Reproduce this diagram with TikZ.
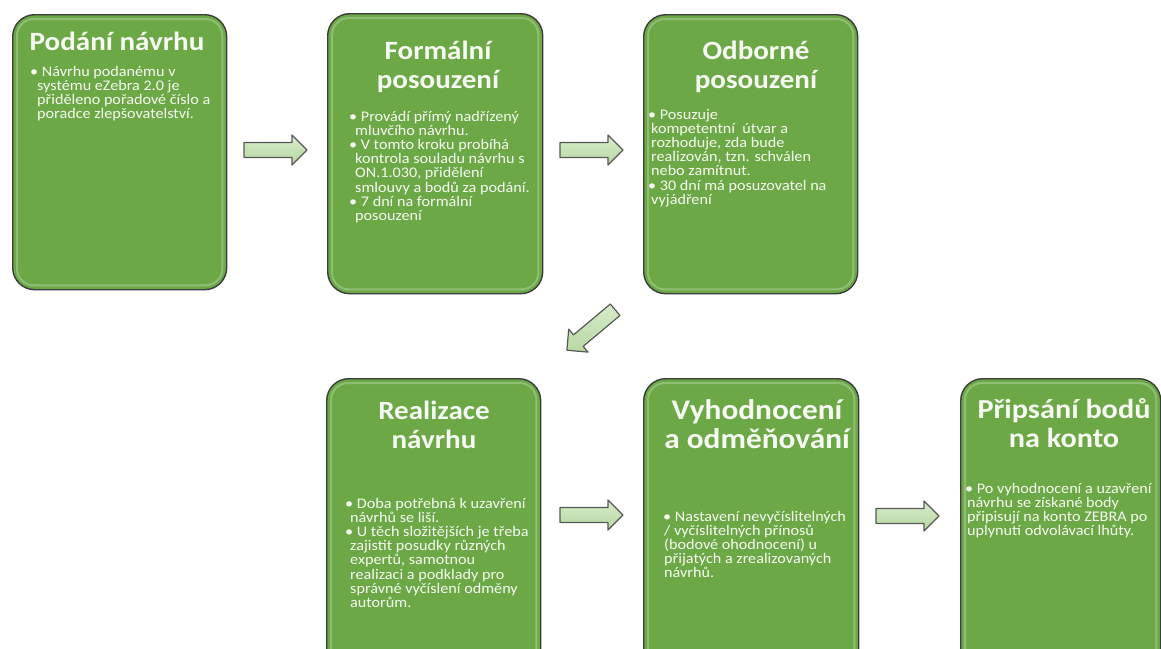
\documentclass[tikz,border=0pt]{standalone}
\usepackage{fontspec}
\setmainfont{Carlito}
\newfontfamily\ttlfont{Carlito}[FakeStretch=1.1]
\newfontfamily\bdyfont{Carlito}[FakeStretch=1.1]
\usetikzlibrary{calc}
\definecolor{boxgreen}{RGB}{108,168,70}
\definecolor{boxline}{RGB}{60,60,60}
\definecolor{txtcol}{RGB}{246,250,242}
\definecolor{arrtop}{RGB}{216,236,203}
\definecolor{arrbot}{RGB}{182,215,162}
\definecolor{arrline}{RGB}{88,88,88}
\newcommand\tsz[2]{\ttlfont\bfseries\fontsize{#1}{#2}\selectfont}
\newcommand\bsz[2]{\bdyfont\fontsize{#1}{#2}\selectfont}
\newcommand\blockarrow[2]{\draw[blockarr, shift={(#1)}, rotate=#2] (-31.5,-7.5) -- (16.5,-7.5) -- (16.5,-15) -- (31.5,0) -- (16.5,15) -- (16.5,7.5) -- (-31.5,7.5) -- cycle;}
\begin{document}
\begin{tikzpicture}[x=1pt,y=-1pt,
  stepbox/.style={draw=boxline, line width=1.4pt, fill=boxgreen, rounded corners=22pt, inner sep=0pt, anchor=north west},
  gloss/.style={draw=white, opacity=0.25, line width=2pt, rounded corners=17pt},
  ttl/.style={text=txtcol, align=center, anchor=base, inner sep=0pt, font=\tsz{26.4}{28.5}},
  bdy/.style={text=txtcol, align=left, anchor=base west, inner sep=0pt, font=\bsz{14.7}{14.2}},
  blockarr/.style={draw=arrline, line width=1.2pt, top color=arrtop, bottom color=arrbot, line join=round}]
\useasboundingbox[fill=white] (0,0) rectangle (1161,648);
% boxes
\node[stepbox, minimum width=214pt, minimum height=275pt] (b1) at (12,14) {};
\node[stepbox, minimum width=215pt, minimum height=280pt] (b2) at (327,13) {};
\node[stepbox, minimum width=214pt, minimum height=279pt] (b3) at (643,14) {};
\node[stepbox, minimum width=214pt, minimum height=300pt] (b4) at (326,378) {};
\node[stepbox, minimum width=215pt, minimum height=300pt] (b5) at (643,378) {};
\node[stepbox, minimum width=200pt, minimum height=300pt] (b6) at (960,378) {};
\foreach \b in {b1,b2,b3,b4,b5,b6}
  \draw[gloss] ([shift={(5,5)}]\b.north west) rectangle ([shift={(-5,-5)}]\b.south east);
% titles (anchor = baseline of the last line)
\node[ttl] (t1) at (117,50) {Podání návrhu};
\node[ttl] (t2) at (438,88) {Formální\\posouzení};
\node[ttl] (t3) at (756,88) {Odborné\\posouzení};
\node[ttl] (t4) at (434,448) {Realizace\\návrhu};
\node[ttl, font=\tsz{28.5}{28.5}] (t5) at (757,448) {Vyhodnocení\\a odměňování};
\node[ttl, font=\tsz{27.5}{28.5}] (t6) at (1064,447) {Připsání bodů\\na konto};
% bodies (anchor = baseline of the last line)
\node[bdy] (d1) at (30,118.6) {• Návrhu podanému v\\\hspace*{7pt}systému eZebra 2.0 je\\\hspace*{7pt}přiděleno pořadové číslo a\\\hspace*{7pt}poradce zlepšovatelství.};
\node[bdy] (d2) at (349,220.4) {• Provádí přímý nadřízený\\\hspace*{6pt}mluvčího návrhu.\\• V tomto kroku probíhá\\\hspace*{6pt}kontrola souladu návrhu s\\\hspace*{6pt}ON.1.030, přidělení\\\hspace*{6pt}smlouvy a bodů za podání.\\• 7 dní na formální\\\hspace*{6pt}posouzení};
\node[bdy] (d3) at (648,204.2) {• Posuzuje\\\hspace*{3pt}kompetentní\ \ útvar a\\\hspace*{3pt}rozhoduje, zda bude\\\hspace*{3pt}realizován, tzn. schválen\\\hspace*{3pt}nebo zamítnut.\\• 30 dní má posuzovatel na\\\hspace*{3pt}vyjádření};
\node[bdy] (d4) at (345,607.4) {• Doba potřebná k uzavření\\\hspace*{5pt}návrhů se liší.\\• U těch složitějších je třeba\\\hspace*{5pt}zajistit posudky různých\\\hspace*{5pt}expertů, samotnou\\\hspace*{5pt}realizaci a podklady pro\\\hspace*{5pt}správné vyčíslení odměny\\\hspace*{5pt}autorům.};
\node[bdy] (d5) at (663,577.8) {• Nastavení nevyčíslitelných\\\hspace*{1pt}/ vyčíslitelných přínosů\\\hspace*{1pt}(bodové ohodnocení) u\\\hspace*{1pt}přijatých a zrealizovaných\\\hspace*{1pt}návrhů.};
\node[bdy] (d6) at (965,535.6) {• Po vyhodnocení a uzavření\\\hspace*{2pt}návrhu se získané body\\\hspace*{2pt}připisují na konto ZEBRA po\\\hspace*{2pt}uplynutí odvolávací lhůty.};
% arrows
\coordinate (a1) at (275.5,150);
\coordinate (a2) at (591.5,150);
\coordinate (a3) at (591,330);
\coordinate (a4) at (591.5,515);
\coordinate (a5) at (907.5,516);
\blockarrow{a1}{0}
\blockarrow{a2}{0}
\blockarrow{a3}{220}
\blockarrow{a4}{0}
\blockarrow{a5}{0}
\end{tikzpicture}
\end{document}
